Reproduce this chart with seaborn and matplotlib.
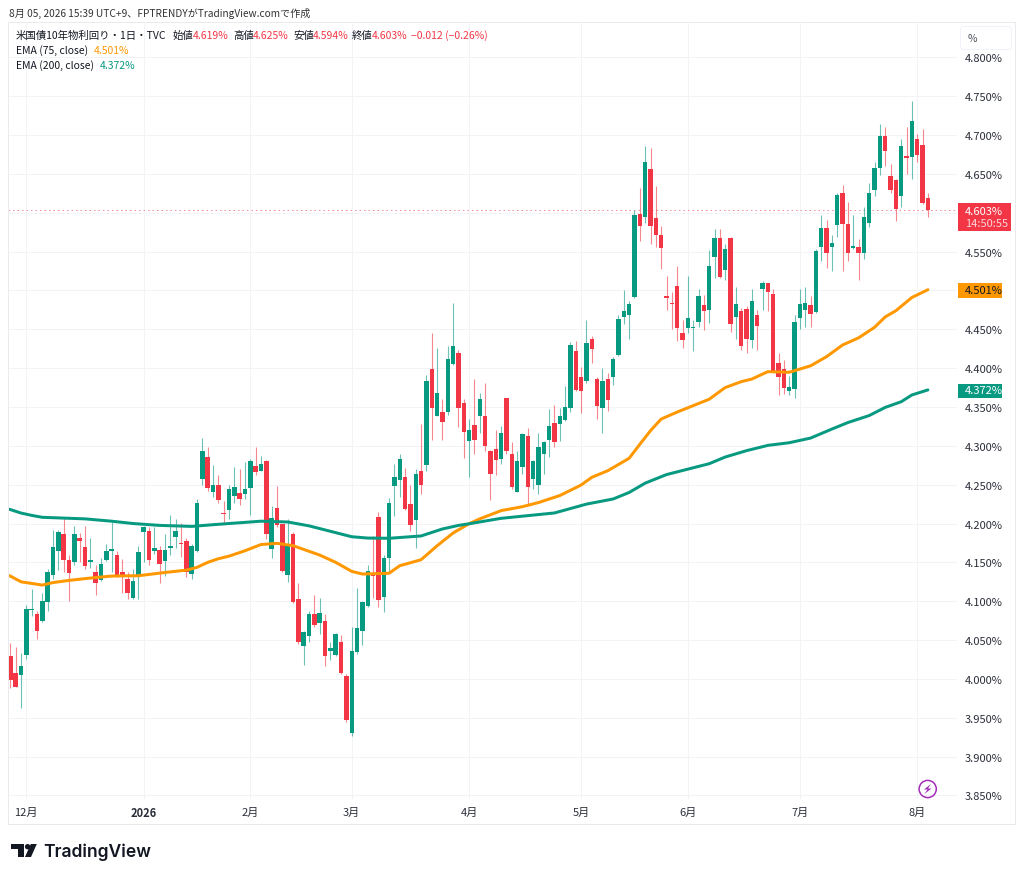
import matplotlib
matplotlib.use("Agg")
import matplotlib.pyplot as plt
import numpy as np
import seaborn as sns
from matplotlib.patches import Circle, FancyBboxPatch, Polygon, Rectangle

OPENS = [
    4.029, 4.007, 4.005, 4.031, 4.089, 4.084, 4.074, 4.099, 4.134, 4.165,
    4.186, 4.153, 4.150, 4.181, 4.170, 4.150, 4.138, 4.127, 4.153, 4.165,
    4.159, 4.138, 4.129, 4.104, 4.131, 4.189, 4.190, 4.165, 4.166, 4.152,
    4.168, 4.183, 4.175, 4.177, 4.135, 4.165, 4.257, 4.286, 4.241, 4.249,
    4.214, 4.218, 4.236, 4.239, 4.238, 4.246, 4.274, 4.268, 4.280, 4.167,
    4.220, 4.199, 4.134, 4.187, 4.103, 4.042, 4.055, 4.083, 4.072, 4.075,
    4.036, 4.031, 4.048, 4.004, 3.931, 4.034, 4.062, 4.094, 4.136, 4.209,
    4.106, 4.155, 4.248, 4.256, 4.260, 4.225, 4.205, 4.268, 4.275, 4.399,
    4.339, 4.344, 4.344, 4.405, 4.420, 4.355, 4.306, 4.327, 4.338, 4.338,
    4.294, 4.296, 4.283, 4.361, 4.289, 4.241, 4.273, 4.313, 4.257, 4.249,
    4.289, 4.308, 4.329, 4.328, 4.333, 4.349, 4.422, 4.388, 4.383, 4.438,
    4.386, 4.349, 4.386, 4.388, 4.417, 4.466, 4.468, 4.491, 4.598, 4.594,
    4.657, 4.593, 4.571, 4.493, 4.484, 4.506, 4.445, 4.452, 4.452, 4.460,
    4.481, 4.475, 4.543, 4.568, 4.526, 4.568, 4.466, 4.473, 4.476, 4.436,
    4.468, 4.502, 4.509, 4.495, 4.406, 4.399, 4.370, 4.373, 4.464, 4.475,
    4.481, 4.472, 4.556, 4.580, 4.556, 4.584, 4.625, 4.585, 4.555, 4.556,
    4.548, 4.587, 4.629, 4.658, 4.699, 4.647, 4.642, 4.622, 4.673, 4.672,
    4.695, 4.687, 4.619,
]
HIGHS = [
    4.046, 4.041, 4.033, 4.095, 4.116, 4.087, 4.111, 4.142, 4.192, 4.192,
    4.208, 4.159, 4.197, 4.188, 4.197, 4.181, 4.147, 4.156, 4.174, 4.202,
    4.165, 4.154, 4.137, 4.142, 4.171, 4.197, 4.195, 4.195, 4.171, 4.186,
    4.211, 4.206, 4.201, 4.182, 4.174, 4.232, 4.310, 4.299, 4.275, 4.262,
    4.229, 4.249, 4.273, 4.270, 4.279, 4.283, 4.299, 4.287, 4.282, 4.223,
    4.248, 4.200, 4.206, 4.189, 4.124, 4.062, 4.087, 4.108, 4.104, 4.083,
    4.048, 4.059, 4.056, 4.006, 4.067, 4.117, 4.100, 4.147, 4.184, 4.215,
    4.159, 4.233, 4.276, 4.289, 4.272, 4.250, 4.270, 4.328, 4.391, 4.445,
    4.426, 4.360, 4.428, 4.484, 4.423, 4.360, 4.334, 4.386, 4.368, 4.381,
    4.295, 4.320, 4.325, 4.362, 4.305, 4.293, 4.317, 4.323, 4.282, 4.317,
    4.306, 4.348, 4.353, 4.349, 4.377, 4.434, 4.435, 4.401, 4.462, 4.441,
    4.388, 4.400, 4.394, 4.415, 4.468, 4.500, 4.487, 4.603, 4.632, 4.686,
    4.683, 4.635, 4.583, 4.519, 4.498, 4.532, 4.462, 4.518, 4.462, 4.502,
    4.494, 4.552, 4.579, 4.579, 4.560, 4.569, 4.505, 4.478, 4.480, 4.502,
    4.475, 4.512, 4.510, 4.502, 4.420, 4.410, 4.390, 4.468, 4.502, 4.505,
    4.493, 4.553, 4.597, 4.591, 4.571, 4.626, 4.636, 4.614, 4.597, 4.566,
    4.607, 4.638, 4.665, 4.714, 4.711, 4.663, 4.643, 4.695, 4.711, 4.744,
    4.701, 4.708, 4.625,
]
LOWS = [
    3.988, 3.989, 3.962, 4.026, 4.081, 4.051, 4.073, 4.088, 4.129, 4.140,
    4.137, 4.100, 4.147, 4.150, 4.141, 4.143, 4.108, 4.126, 4.152, 4.138,
    4.131, 4.110, 4.103, 4.103, 4.103, 4.151, 4.147, 4.161, 4.123, 4.132,
    4.159, 4.169, 4.157, 4.131, 4.129, 4.163, 4.249, 4.242, 4.234, 4.227,
    4.200, 4.206, 4.227, 4.224, 4.232, 4.211, 4.263, 4.267, 4.180, 4.155,
    4.196, 4.137, 4.125, 4.098, 4.045, 4.018, 4.048, 4.067, 4.058, 4.017,
    4.024, 4.030, 4.006, 3.945, 3.926, 4.032, 4.044, 4.093, 4.104, 4.093,
    4.086, 4.137, 4.210, 4.234, 4.217, 4.190, 4.169, 4.238, 4.268, 4.308,
    4.338, 4.308, 4.340, 4.404, 4.324, 4.284, 4.260, 4.289, 4.317, 4.294,
    4.230, 4.262, 4.276, 4.290, 4.245, 4.240, 4.264, 4.225, 4.244, 4.238,
    4.264, 4.285, 4.299, 4.306, 4.332, 4.344, 4.371, 4.342, 4.381, 4.407,
    4.334, 4.316, 4.345, 4.378, 4.416, 4.457, 4.437, 4.490, 4.564, 4.587,
    4.560, 4.556, 4.528, 4.475, 4.450, 4.435, 4.426, 4.445, 4.422, 4.453,
    4.449, 4.458, 4.516, 4.516, 4.513, 4.447, 4.437, 4.423, 4.420, 4.426,
    4.423, 4.475, 4.473, 4.395, 4.365, 4.367, 4.365, 4.361, 4.450, 4.453,
    4.453, 4.471, 4.538, 4.529, 4.525, 4.569, 4.525, 4.538, 4.553, 4.513,
    4.541, 4.582, 4.622, 4.649, 4.660, 4.626, 4.589, 4.607, 4.650, 4.643,
    4.666, 4.611, 4.594,
]
CLOSES = [
    3.999, 3.990, 4.016, 4.090, 4.090, 4.062, 4.100, 4.138, 4.170, 4.189,
    4.153, 4.136, 4.186, 4.177, 4.145, 4.153, 4.123, 4.148, 4.164, 4.167,
    4.134, 4.131, 4.110, 4.126, 4.163, 4.195, 4.153, 4.169, 4.148, 4.166,
    4.171, 4.190, 4.174, 4.137, 4.171, 4.226, 4.294, 4.246, 4.250, 4.230,
    4.212, 4.244, 4.247, 4.232, 4.244, 4.280, 4.266, 4.277, 4.187, 4.207,
    4.198, 4.139, 4.173, 4.099, 4.048, 4.061, 4.083, 4.069, 4.085, 4.030,
    4.040, 4.058, 4.008, 3.947, 4.036, 4.065, 4.099, 4.139, 4.132, 4.101,
    4.155, 4.227, 4.260, 4.283, 4.219, 4.198, 4.264, 4.249, 4.383, 4.349,
    4.368, 4.331, 4.412, 4.428, 4.349, 4.318, 4.320, 4.308, 4.360, 4.300,
    4.264, 4.282, 4.317, 4.293, 4.247, 4.281, 4.315, 4.247, 4.281, 4.299,
    4.305, 4.325, 4.305, 4.339, 4.350, 4.430, 4.372, 4.370, 4.432, 4.425,
    4.351, 4.383, 4.359, 4.412, 4.463, 4.473, 4.483, 4.597, 4.583, 4.666,
    4.583, 4.571, 4.555, 4.490, 4.482, 4.452, 4.436, 4.465, 4.453, 4.493,
    4.474, 4.532, 4.568, 4.517, 4.553, 4.457, 4.483, 4.429, 4.438, 4.487,
    4.454, 4.509, 4.498, 4.396, 4.388, 4.375, 4.376, 4.460, 4.483, 4.484,
    4.470, 4.551, 4.580, 4.548, 4.561, 4.623, 4.586, 4.548, 4.557, 4.548,
    4.594, 4.625, 4.658, 4.699, 4.680, 4.629, 4.605, 4.686, 4.670, 4.718,
    4.675, 4.613, 4.603,
]

EMA200_DAYS = [0, 1, 3, 5, 7, 11, 15, 20, 24, 29, 35, 39, 42, 46, 48, 53, 57, 61, 65, 68, 72,
               78, 82, 85, 87, 93, 103, 109, 114, 117, 120, 124, 128, 132, 135, 139, 143,
               147, 151, 155, 158, 162, 165, 168, 170, 173]
EMA200_VALUES = [4.2195, 4.218, 4.2135, 4.2105, 4.208, 4.207, 4.206, 4.203, 4.200, 4.1976,
                 4.1963, 4.1985, 4.200, 4.202, 4.203, 4.202, 4.197, 4.190, 4.183, 4.1813, 4.181,
                 4.184, 4.193, 4.1976, 4.1997, 4.2067, 4.2136, 4.225, 4.2316, 4.240, 4.252,
                 4.263, 4.270, 4.277, 4.2856, 4.2938, 4.3006, 4.304, 4.310, 4.3216, 4.330,
                 4.339, 4.3495, 4.3568, 4.3655, 4.372]
EMA75_DAYS = [0, 1, 3, 7, 9, 12, 16, 20, 25, 30, 34, 36, 38, 40, 42, 45, 48, 51, 54, 59, 62, 65,
              67, 72, 74, 78, 81, 84, 87, 89, 93, 97, 100, 104, 108, 110, 113, 117, 119, 121,
              123, 126, 128, 132, 135, 138, 140, 143, 147, 151, 154, 157, 160, 163, 165, 167,
              170, 173]
EMA75_VALUES = [4.1345, 4.1324, 4.125, 4.1208, 4.124, 4.1268, 4.1298, 4.1324, 4.1328, 4.137,
                4.140, 4.1436, 4.150, 4.1547, 4.158, 4.165, 4.173, 4.1745, 4.1715, 4.1594, 4.150,
                4.1384, 4.135, 4.136, 4.1457, 4.1534, 4.1714, 4.1878, 4.1998, 4.206, 4.2166,
                4.2217, 4.227, 4.236, 4.2496, 4.2595, 4.268, 4.284, 4.302, 4.3195, 4.3345,
                4.3435, 4.349, 4.360, 4.375, 4.3826, 4.386, 4.3955, 4.3947, 4.403, 4.4148,
                4.4298, 4.439, 4.4526, 4.466, 4.474, 4.491, 4.501]

MONTH_DAYS = [4, 26, 46, 65, 87, 108, 128, 149, 171]
MONTH_LABELS = ["12月", "2026", "2月", "3月", "4月", "5月", "6月", "7月", "8月"]
PRICE_TICKS = [3.85, 3.90, 3.95, 4.00, 4.05, 4.10, 4.15, 4.20, 4.25, 4.30, 4.35, 4.40, 4.45,
               4.50, 4.55, 4.60, 4.65, 4.70, 4.75, 4.80]
HIDDEN_TICKS = [4.50, 4.60]  # covered by the last-value tags

LAST_PRICE = 4.603

WIDTH, HEIGHT = 1024, 878
GREEN = "#089981"
RED = "#F23645"
ORANGE = "#FF9800"
TEXT = "#131722"
GRID = "#F2F3F5"
FRAME = "#E9EAEC"
FONT = ["Noto Sans CJK JP", "DejaVu Sans"]
PX = 0.72  # one pixel in points at dpi 100

sns.set_theme(style="white")
plt.rcParams["font.family"] = FONT


def px_axes(figure, left, top, right, bottom):
    """Add axes placed by pixel edges, y counted from the top."""
    return figure.add_axes([left / WIDTH, 1 - bottom / HEIGHT,
                            (right - left) / WIDTH, (bottom - top) / HEIGHT])


def draw_candles(axes):
    """Wicks and bodies from the OHLC lists."""
    days = np.arange(1, len(OPENS) + 1)
    opens, highs, lows, closes = map(np.array, (OPENS, HIGHS, LOWS, CLOSES))
    colors = np.where(closes >= opens, GREEN, RED)
    axes.vlines(days, lows, highs, colors=colors, linewidth=1.1 * PX, alpha=0.6, zorder=2)
    axes.bar(days, np.abs(closes - opens), bottom=np.minimum(opens, closes), width=0.84,
             color=colors, linewidth=0, zorder=2.5)


def draw_price_pane(axes):
    draw_candles(axes)
    sns.lineplot(x=EMA75_DAYS, y=EMA75_VALUES, color=ORANGE, linewidth=3 * PX, ax=axes, zorder=3)
    sns.lineplot(x=EMA200_DAYS, y=EMA200_VALUES, color=GREEN, linewidth=3 * PX, ax=axes, zorder=3)
    axes.axhline(LAST_PRICE, color=RED, linewidth=PX, linestyle=(0, (1.5, 3)), alpha=0.55, zorder=1.5)

    axes.set_xlim(0.569, 178.45)
    axes.set_ylim(3.8454, 4.8443)
    axes.set_xticks(MONTH_DAYS, MONTH_LABELS)
    axes.set_yticks(PRICE_TICKS, ["" if p in HIDDEN_TICKS else f"{p:.3f}%" for p in PRICE_TICKS])
    axes.yaxis.tick_right()
    axes.tick_params(axis="y", length=0, pad=5.8, labelsize=8, labelcolor="#2A2E39")
    axes.tick_params(axis="x", length=0, pad=5.4, labelsize=8, labelcolor="#2A2E39")
    axes.get_xticklabels()[1].set_fontweight("bold")
    axes.grid(True, color=GRID, linewidth=PX)
    axes.set_axisbelow(True)
    sns.despine(ax=axes, left=True, bottom=True, right=True, top=True)


def tag(overlay, top, bottom, right, color):
    overlay.add_patch(Rectangle((958, top), right - 958, bottom - top, color=color, linewidth=0))


def draw_chrome(overlay):
    """Frame, legend header, last-value tags and the logo, in pixel coordinates."""
    overlay.add_patch(Rectangle((8, 23), 1007, 802, fill=False, edgecolor=FRAME, linewidth=PX))

    overlay.text(9, 13, "8月 05, 2026 15:39 UTC+9、FPTRENDYがTradingView.comで作成",
                 fontsize=7.3, color="#333333", va="center")

    header = [(16, "米国債10年物利回り・1日・TVC", TEXT), (173, "始値", TEXT), (193, "4.619%", RED),
              (233, "高値", TEXT), (253, "4.625%", RED), (293, "安値", TEXT), (313, "4.594%", RED),
              (352, "終値", TEXT), (372, "4.603%", RED), (411, "−0.012 (−0.26%)", RED)]
    for x, label, color in header:
        overlay.text(x, 36, label, fontsize=7.5, color=color, va="center")
    overlay.text(16, 51, "EMA (75, close)", fontsize=7.5, color=TEXT, va="center")
    overlay.text(94, 51, "4.501%", fontsize=7.5, color=ORANGE, va="center")
    overlay.text(16, 66, "EMA (200, close)", fontsize=7.5, color=TEXT, va="center")
    overlay.text(100, 66, "4.372%", fontsize=7.5, color=GREEN, va="center")

    overlay.add_patch(FancyBboxPatch((962, 29), 48, 20, boxstyle="round,pad=1.5,rounding_size=3",
                                     facecolor="white", edgecolor="#F0F3FA", linewidth=PX))
    overlay.text(968, 39, "%", fontsize=7.5, color="#50535E", va="center")

    tag(overlay, 204.3, 231.7, 1010.7, RED)
    overlay.text(965, 212, "4.603%", fontsize=8, color="white", va="center")
    overlay.text(965, 224.5, "14:50:55", fontsize=8, color="#FBD5D9", va="center")
    tag(overlay, 284.3, 299.3, 1002, ORANGE)
    overlay.text(965, 291.5, "4.501%", fontsize=8, color=TEXT, va="center")
    tag(overlay, 384.7, 399.3, 1002, GREEN)
    overlay.text(965, 391.5, "4.372%", fontsize=8, color="white", va="center")

    # lightning badge
    overlay.add_patch(Circle((927.7, 790), 8.6, fill=False, edgecolor="#A32BB8", linewidth=1.5 * PX))
    overlay.add_patch(Polygon([(931, 785), (924, 790.5), (927.5, 790.5), (924.5, 795), (931.5, 789.5),
                               (928, 789.5)], color="#A32BB8", linewidth=0))

    # TradingView mark
    logo = "#131722"
    overlay.add_patch(Polygon([(10.7, 845), (24, 845), (24, 858), (17.5, 858), (17.5, 850.5), (10.7, 850.5)],
                              color=logo, linewidth=0))
    overlay.add_patch(Circle((27.6, 847.7), 2.7, color=logo, linewidth=0))
    overlay.add_patch(Polygon([(30.8, 845), (36.8, 845), (31, 858), (25, 858)], color=logo, linewidth=0))
    overlay.text(43, 852, "TradingView", fontsize=12.6, fontweight="semibold", family="Inter",
                 color=logo, va="center")


figure = plt.figure(figsize=(WIDTH / 100, HEIGHT / 100), dpi=100, facecolor="white")
price_axes = px_axes(figure, 8, 24, 957, 800)
draw_price_pane(price_axes)

overlay_axes = figure.add_axes([0, 0, 1, 1])
overlay_axes.set_xlim(0, WIDTH)
overlay_axes.set_ylim(HEIGHT, 0)
overlay_axes.axis("off")
draw_chrome(overlay_axes)

figure.savefig("out.png", dpi=100)
